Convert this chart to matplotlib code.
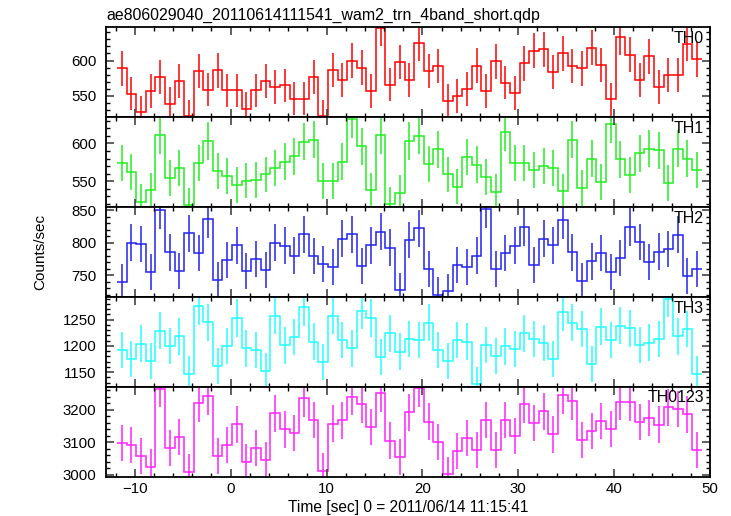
import numpy as np
import matplotlib
matplotlib.use("Agg")
import matplotlib.pyplot as plt
from matplotlib.ticker import MultipleLocator

plt.rcParams['font.family'] = ['Liberation Sans', 'DejaVu Sans']

# 1 s bins, first bin starts at -11.85 s
t_start = -11.85
bin_width = 1.0

th0 = [589, 553, 527, 557, 577, 539, 571, 522, 585, 559, 586, 558, 558, 532, 558, 571,
       563, 565, 546, 546, 577, 521, 587, 573, 600, 590, 557, 646, 566, 598, 572, 625,
       585, 592, 543, 550, 560, 593, 557, 599, 569, 554, 596, 614, 616, 584, 610, 592,
       589, 618, 594, 545, 633, 608, 573, 606, 563, 580, 579, 624, 602]
th1 = [574, 562, 523, 538, 611, 554, 568, 519, 574, 603, 563, 557, 545, 551, 552, 559,
       568, 576, 583, 602, 605, 550, 550, 576, 632, 596, 538, 611, 520, 535, 603, 610,
       573, 592, 559, 543, 582, 572, 556, 536, 615, 574, 574, 565, 570, 567, 537, 605,
       541, 580, 549, 625, 579, 558, 587, 593, 591, 548, 593, 580, 565]
th2 = [740, 800, 798, 755, 850, 785, 756, 814, 784, 836, 743, 773, 796, 756, 775, 758,
       800, 795, 780, 813, 779, 767, 763, 806, 813, 764, 796, 817, 792, 727, 804, 822,
       760, 720, 725, 765, 762, 780, 852, 759, 784, 795, 824, 765, 806, 796, 835, 785,
       741, 771, 784, 755, 776, 824, 801, 770, 786, 790, 812, 749, 760]
th3 = [1192, 1174, 1204, 1171, 1229, 1200, 1218, 1146, 1276, 1245, 1162, 1200, 1253, 1195,
       1192, 1152, 1257, 1201, 1217, 1274, 1208, 1169, 1257, 1211, 1195, 1267, 1253, 1178,
       1224, 1189, 1213, 1211, 1244, 1192, 1171, 1211, 1208, 1127, 1202, 1180, 1199, 1194,
       1224, 1213, 1205, 1174, 1264, 1244, 1232, 1166, 1236, 1211, 1238, 1233, 1202, 1206,
       1213, 1290, 1218, 1232, 1146]
th0123 = [3098, 3092, 3057, 3024, 3264, 3081, 3115, 3008, 3219, 3241, 3057, 3091, 3155, 3040,
          3081, 3044, 3189, 3139, 3129, 3235, 3168, 3013, 3157, 3167, 3239, 3217, 3146, 3250,
          3105, 3054, 3192, 3266, 3163, 3101, 3001, 3074, 3113, 3075, 3168, 3077, 3168, 3119,
          3216, 3159, 3195, 3124, 3245, 3226, 3106, 3135, 3165, 3140, 3224, 3223, 3162, 3174,
          3154, 3207, 3202, 3186, 3076]

bands = ['TH0', 'TH1', 'TH2', 'TH3', 'TH0123']
series = [th0, th1, th2, th3, th0123]
colors = ['#ff0000', '#22ee22', '#2222ee', '#22ffff', '#ff22ff']
ylims = [(520, 647), (516, 634.5), (716.5, 854.6), (1122, 1293), (2994, 3270)]
major = [50, 50, 50, 50, 100]
minor = [10, 10, 10, 10, 20]

fig = plt.figure(figsize=(7.31, 5.16), dpi=100)
left, right = 106 / 731, 710 / 731
top, bot = 1 - 27.3 / 516, 1 - 476.7 / 516
h = (top - bot) / 5

for k in range(5):
    ax = fig.add_axes([left, top - (k + 1) * h, right - left, h])
    vals = np.array(series[k], dtype=float)
    edges = t_start + bin_width * np.arange(len(vals) + 1)
    centers = edges[:-1] + bin_width / 2
    err = np.sqrt(vals)  # Poisson errors for 1 s bins
    ax.stairs(vals, edges, color=colors[k], lw=1.1, baseline=None)
    ax.errorbar(centers, vals, yerr=err, fmt='none', ecolor=colors[k], elinewidth=1.1, capsize=0)
    ax.set_xlim(-13, 50)
    ax.set_ylim(*ylims[k])
    ax.xaxis.set_major_locator(MultipleLocator(10))
    ax.xaxis.set_minor_locator(MultipleLocator(2))
    ax.yaxis.set_major_locator(MultipleLocator(major[k]))
    ax.yaxis.set_minor_locator(MultipleLocator(minor[k]))
    ax.tick_params(which='both', direction='in', top=True, right=True, labelsize=10.8)
    ax.tick_params(which='major', length=6, width=1.2, color='#444444')
    ax.tick_params(which='minor', length=3, width=1)
    ax.tick_params(axis='y', which='major', pad=7)
    for s in ax.spines.values():
        s.set_linewidth(1.3)
    ax.text(0.99, 0.96, bands[k], transform=ax.transAxes, ha='right', va='top', fontsize=11.5)
    if k < 4:
        ax.tick_params(labelbottom=False)
    else:
        ax.set_xlabel('Time [sec] 0 = 2011/06/14 11:15:41', fontsize=11.2, labelpad=3)
    if k == 0:
        ax.set_title('ae806029040_20110614111541_wam2_trn_4band_short.qdp', loc='left',
                     fontsize=11.4, pad=5)

fig.text(0.055, (top + bot) / 2, 'Counts/sec', rotation=90, ha='center', va='center', fontsize=11)

fig.savefig('out.png', dpi=100)
